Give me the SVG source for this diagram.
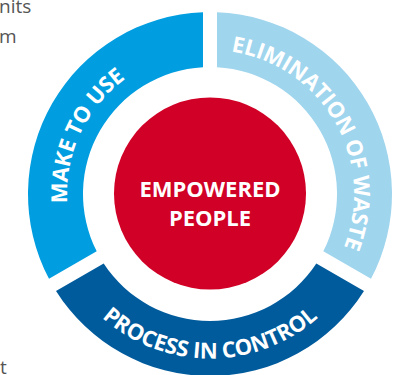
<svg xmlns="http://www.w3.org/2000/svg" width="398" height="375" viewBox="0 0 398 375">
<style>
.seg-text{font-family:"Open Sans","Liberation Sans",sans-serif;font-weight:700;font-size:22px;fill:#ffffff;letter-spacing:-0.2px;}
.center-text{font-family:"Open Sans","Liberation Sans",sans-serif;font-weight:700;font-size:22px;fill:#ffffff;}
.body-text{font-family:"Open Sans","Liberation Sans",sans-serif;font-weight:400;font-size:19px;fill:#555555;}
</style>
<defs>
<path id="p-make" d="M 92.86 276.02 A 143 143 0 0 1 197.54 51.54"/>
<path id="p-elim" d="M 210 50 A 144 144 0 0 1 334.71 266"/>
<path id="p-proc" d="M 67.97 276 A 163.5 163.5 0 0 0 352.03 276"/>
</defs>
<rect width="398" height="375" fill="#ffffff"/>
<text class="body-text" x="-1" y="13">nits</text>
<text class="body-text" x="-1" y="43">m</text>
<text class="body-text" x="0" y="374">t</text>
<g id="make-to-use">
<path d="M 49 278.87 A 182 182 0 0 1 203 12.14 L 203 67.19 A 127 127 0 0 0 96.68 251.34 Z" fill="#009ee0"/>
<text class="seg-text"><textPath href="#p-make" startOffset="50%" text-anchor="middle">MAKE TO USE</textPath></text>
</g>
<g id="elimination-of-waste">
<path d="M 217 12.14 A 182 182 0 0 1 371 278.87 L 323.32 251.34 A 127 127 0 0 0 217 67.19 Z" fill="#a0d5ee"/>
<text class="seg-text"><textPath href="#p-elim" startOffset="50%" text-anchor="middle">ELIMINATION OF WASTE</textPath></text>
</g>
<g id="process-in-control">
<path d="M 364 290.99 A 182 182 0 0 1 56 290.99 L 103.68 263.46 A 127 127 0 0 0 316.32 263.46 Z" fill="#005b9d"/>
<text class="seg-text"><textPath href="#p-proc" startOffset="50%" text-anchor="middle">PROCESS IN CONTROL</textPath></text>
</g>
<g id="empowered-people">
<circle cx="210" cy="193.5" r="96" fill="#d10026"/>
<text class="center-text" x="210" y="197" text-anchor="middle">EMPOWERED</text>
<text class="center-text" x="210" y="226" text-anchor="middle">PEOPLE</text>
</g>
<g id="connectors"></g>
</svg>
